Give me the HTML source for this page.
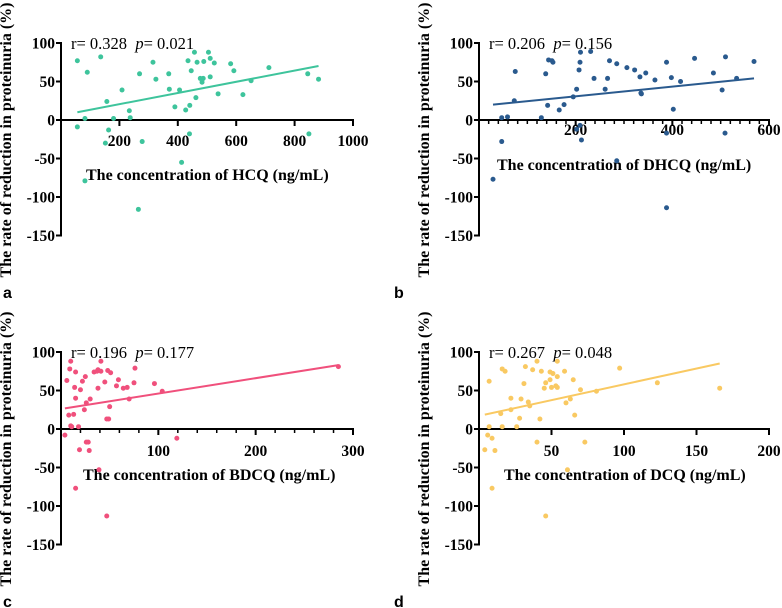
<!DOCTYPE html>
<html><head><meta charset="utf-8">
<style>
html,body{margin:0;padding:0;background:#fff;}
svg{display:block;}
text{font-family:"Liberation Serif",serif;}
.tick{font-weight:bold;font-size:15.5px;}
.ttl{font-weight:bold;font-size:16px;}
.ann{font-size:16.5px;}
.lab{font-family:"Liberation Sans",sans-serif;font-weight:bold;font-size:16px;}
</style></head>
<body>
<svg id="fig" width="782" height="608" viewBox="0 0 782 608" xmlns="http://www.w3.org/2000/svg"></svg>
<script>
// Panel a: HCQ
const hcqX=[56,56,82,90,82,136,157,163,152,180,209,234,237,269,278,265,315,325,369,371,390,406,413,427,435,441,446,440,457,462,466,477,483,487,489,505,511,511,525,538,581,592,623,651,712,845,849,882];
const hcqY=[77,-9,2,62,-79,82,24,-13,-30,2,39,12,3,60,-28,-116,75,53,60,40,17,39,-55,13,77,19,64,-18,88,29,75,54,49,54,76,88,80,56,74,34,73,64,33,51,68,60,-18,53];
const hcqFit=[0.0727,6];
const hcqXTicks=[200,400,600,800,1000];
// Panel b: DHCQ
const dhcqX=[29,47,47,59,75,73,129,138,142,144,151,153,166,176,195,202,202,207,209,209,210,212,231,238,261,266,270,285,285,306,322,333,335,336,345,364,388,388,388,398,402,417,446,485,503,510,509,533,569];
const dhcqY=[-77,3,-28,4,63,25,3,60,19,78,77,75,13,20,30,40,-12,65,75,-7,88,-26,89,54,40,54,77,73,-53,68,65,56,35,34,61,52,75,-17,-114,55,14,50,80,61,39,82,-17,54,76];
const dhcqFit=[0.063,18.2];
const dhcqXTicks=[200,400,600];
// Panel c: BDCQ
const bdcqX=[4,6,8,9,10,10,11,13,14,15,15,15,18,19,20,22,24,25,26,26,28,29,30,34,37,38,38,39,41,41,45,47,47,49,48,50,51,57,59,64,68,70,75,76,96,104,119,285];
const bdcqY=[-8,63,18,78,4,88,3,19,54,40,74,-77,3,-27,51,62,25,68,-17,34,-17,-28,39,74,75,53,77,-53,88,75,61,13,-113,13,76,29,73,56,64,53,54,39,60,79,59,49,-12,81];
const bdcqFit=[0.2,26];
const bdcqXTicks=[100,200,300];
// Panel d: DCQ
const dcqX=[4,6,7,7,9,9,11,15,16,16,18,22,22,26,28,29,31,32,34,35,37,40,40,42,43,45,46,46,49,49,50,51,53,54,54,54,59,60,61,63,65,66,70,73,81,97,123,166];
const dcqY=[-27,-8,62,3,-77,-12,-28,20,3,78,75,40,25,3,14,39,59,81,35,30,77,-17,88,13,75,53,60,-113,74,64,54,72,56,88,68,54,75,34,-53,39,64,18,51,-17,49,79,60,53];
const dcqFit=[0.41,17];
const dcqXTicks=[50,100,150,200];
const yTicks=[100,50,0,-50,-100,-150];

const NS="http://www.w3.org/2000/svg";
const svg=document.getElementById('fig');
function mk(tag,attrs,parent){const e=document.createElementNS(NS,tag);for(const k in attrs)e.setAttribute(k,attrs[k]);(parent||svg).appendChild(e);return e;}

const panels=[
 {id:'a',X:hcqX,Y:hcqY,fit:hcqFit,xt:hcqXTicks,xmax:1000,minor:0,ox:61,oy:120,x1:353,col:'#3ec49c',r:'0.328',p:'0.021',name:'HCQ',xtY:146,titleX:86,titleY:180,lx:3,ly:298},
 {id:'b',X:dhcqX,Y:dhcqY,fit:dhcqFit,xt:dhcqXTicks,xmax:600,minor:20,ox:479,oy:120,x1:769,col:'#2a5a8e',r:'0.206',p:'0.156',name:'DHCQ',xtY:135,titleX:497,titleY:170,lx:394,ly:298},
 {id:'c',X:bdcqX,Y:bdcqY,fit:bdcqFit,xt:bdcqXTicks,xmax:300,minor:20,ox:61,oy:429,x1:353,col:'#f0507c',r:'0.196',p:'0.177',name:'BDCQ',xtY:456,titleX:83,titleY:480,lx:3,ly:607},
 {id:'d',X:dcqX,Y:dcqY,fit:dcqFit,xt:dcqXTicks,xmax:200,minor:0,ox:479,oy:429,x1:769,col:'#f9c962',r:'0.267',p:'0.048',name:'DCQ',xtY:456,titleX:504,titleY:480,lx:394,ly:607}
];
panels.forEach(P=>{
 const g=mk('g',{});
 
 
 const yScale=v=>P.oy-v*0.77;
 const xScale=v=>P.ox+v/P.xmax*(P.x1-P.ox);
 const ytop=yScale(100), ybot=yScale(-150);
 const ya=mk('line',{x1:P.ox,y1:ytop-1,x2:P.ox,y2:ybot+1,stroke:'#000','stroke-width':2},g);
 
 
 yTicks.forEach(t=>{
  const y=yScale(t);
  mk('line',{x1:P.ox-5,y1:y,x2:P.ox,y2:y,stroke:'#000','stroke-width':2},g);
  const tx=mk('text',{x:P.ox-6,y:y+5.5,'text-anchor':'end',class:'tick'},g);
  tx.textContent=t;
  
  
 });
 const xa=mk('line',{x1:P.ox,y1:P.oy,x2:P.x1+1,y2:P.oy,stroke:'#000','stroke-width':2},g);
 
 
 if(P.minor){for(let v=P.minor;v<=P.xmax;v+=P.minor){const x=xScale(v);mk('line',{x1:x,y1:P.oy,x2:x,y2:P.oy+4,stroke:'#000','stroke-width':1.5},g);}}
 P.xt.forEach(t=>{
  const x=xScale(t);
  mk('line',{x1:x,y1:P.oy,x2:x,y2:P.oy+6,stroke:'#000','stroke-width':2},g);
  const tx=mk('text',{x:x,y:P.xtY,'text-anchor':'middle',class:'tick'},g);
  tx.textContent=t;
  
  
 });
 const yt=mk('text',{x:0,y:0,'text-anchor':'middle',class:'ttl',transform:`translate(${P.ox-50},${P.oy+20}) rotate(-90)`},g);
 yt.textContent='The rate of reduction in proteinuria (%)';
 
 
 const xt=mk('text',{x:P.titleX,y:P.titleY,class:'ttl'},g);
 xt.textContent='The concentration of '+P.name+' (ng/mL)';
 
 
 const an=mk('text',{x:P.ox+10,y:ytop+6,class:'ann'},g);
 
 
 an.appendChild(document.createTextNode('r= '+P.r+'\u00a0\u00a0'));
 const it=mk('tspan',{'font-style':'italic'},an);it.textContent='p';
 an.appendChild(document.createTextNode('= '+P.p));
 P.X.forEach((xv,i)=>{
  const c=mk('circle',{cx:xScale(xv),cy:yScale(P.Y[i]),r:2.5,fill:P.col},g);
  
  
 });
 const xmin=Math.min(...P.X), xmx=Math.max(...P.X);
 const fl=mk('line',{x1:xScale(xmin),y1:yScale(P.fit[0]*xmin+P.fit[1]),x2:xScale(xmx),y2:yScale(P.fit[0]*xmx+P.fit[1]),stroke:P.col,'stroke-width':2},g);
 
 
 const lb=mk('text',{x:P.lx,y:P.ly,class:'lab'},g);
 lb.textContent=P.id;
 
 
});
</script>
</body></html>
